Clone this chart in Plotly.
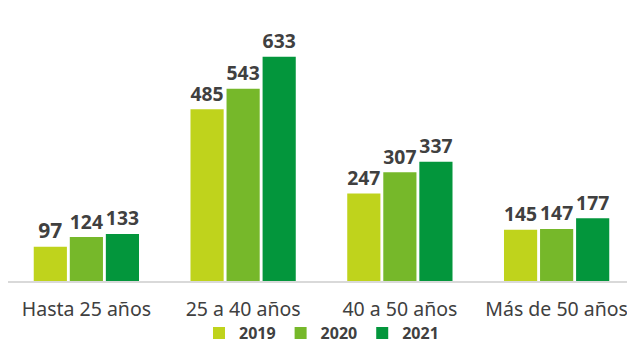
import plotly.graph_objects as go

categories = ["Hasta 25 años", "25 a 40 años", "40 a 50 años", "Más de 50 años"]
years = ["2019", "2020", "2021"]
v2019 = [97, 485, 247, 145]
v2020 = [124, 543, 307, 147]
v2021 = [133, 633, 337, 177]
colors = ["#BFD31C", "#76B82A", "#03963C"]

fig = go.Figure()
for name, vals, c in zip(years, [v2019, v2020, v2021], colors):
    fig.add_trace(go.Bar(
        x=categories, y=vals, name=name, marker_color=c, marker_line_width=0,
        text=[str(v) for v in vals], textposition="outside", cliponaxis=False,
        textfont=dict(family="Noto Sans", size=21, color="#404040", weight="bold"),
    ))

# page body has an 8px margin, so the figure is sized to fit the window from (8, 8)
fig.update_layout(
    width=627, height=341,
    margin=dict(l=0, r=0, t=12, b=68, autoexpand=False),
    paper_bgcolor="white", plot_bgcolor="white",
    barmode="group", bargap=0.31, bargroupgap=0.08,
    font=dict(family="Noto Sans", color="#404040"),
    xaxis=dict(showline=True, linecolor="#D9D9D9", linewidth=1.5,
               tickfont=dict(size=19.5, color="#404040"),
               ticks="", ticklabelstandoff=10, automargin=False),
    yaxis=dict(range=[0, 737], visible=False, showgrid=False, automargin=False),
    legend=dict(orientation="h", x=0.5, xanchor="center", y=-0.2, yanchor="middle",
                font=dict(size=16, color="#404040", weight="bold"), itemwidth=30,
                traceorder="normal"),
    showlegend=True,
)
fig.write_html("out.html")
